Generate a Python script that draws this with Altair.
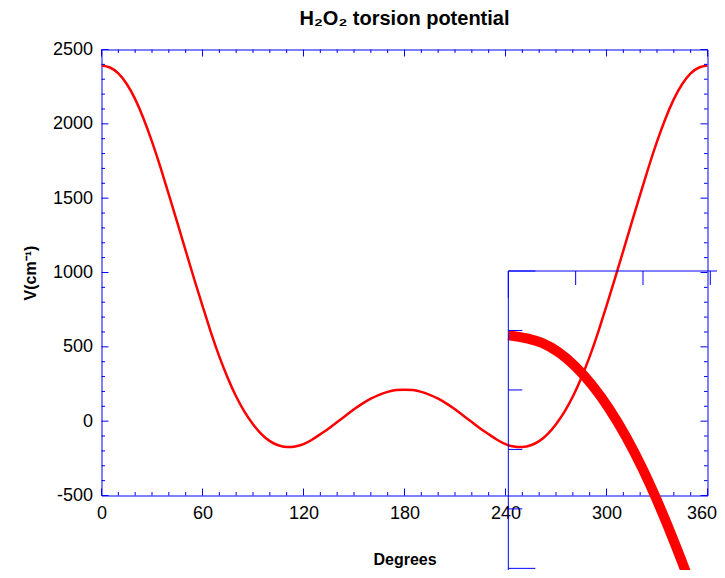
import altair as alt
import pandas as pd

# ---- data ----
angles = list(range(0, 365, 5))
potential = [2392, 2379, 2339, 2268, 2166, 2034, 1880, 1708, 1524, 1337, 1147, 958, 776,
             597, 434, 291, 166, 63, -20, -87, -134, -162, -174, -171, -155,
             -125, -88, -49, -6, 37, 80, 118, 151, 177, 197, 209, 212,
             209, 197, 177, 151, 118, 80, 37, -6, -49, -88, -125, -155,
             -171, -174, -162, -134, -87, -20, 63, 166, 291, 434, 597, 776,
             958, 1147, 1337, 1524, 1708, 1880, 2034, 2166, 2268, 2339, 2379, 2392]

inset_angles = angles[:10]
inset_potential = potential[:10]

x_major = [0, 60, 120, 180, 240, 300, 360]
x_minor = [a for a in range(0, 361, 10) if a % 60 != 0]
y_major = [-500, 0, 500, 1000, 1500, 2000, 2500]
y_minor = [v for v in range(-500, 2501, 100) if v % 500 != 0]

inset_x_major = [0]
inset_x_minor = [10, 20, 30]
inset_y_major = [2500, 2000]
inset_y_minor = [2400, 2300, 2200, 2100]

# ---- style ----
W, H = 606, 446
BLUE = "#0000ff"
RED = "#ff0000"
FONT = "Liberation Sans"

xs = alt.Scale(domain=[0, 360], nice=False, zero=False)
ys = alt.Scale(domain=[-500, 2500], nice=False, zero=False)
xi = alt.Scale(domain=[-60.42, 29.58], nice=False, zero=False)
yi = alt.Scale(domain=[2122.5, 2872.5], nice=False, zero=False)

df = pd.DataFrame({"deg": angles, "V": potential})
df_in = pd.DataFrame({"deg": inset_angles, "V": inset_potential})

last_label = "datum.value == 360"

curve = alt.Chart(df).mark_line(color=RED, strokeWidth=2.5, interpolate="natural", clip=True).encode(
    x=alt.X("deg:Q", scale=xs, axis=alt.Axis(
        values=x_major, title="Degrees", ticks=False, domain=False, grid=False,
        labelFont=FONT, labelFontSize=18, labelColor="black", labelPadding=9,
        labelFlush=False, labelOverlap=False,
        labelAlign={"condition": {"test": last_label, "value": "right"}, "value": "center"},
        labelOffset={"condition": {"test": last_label, "value": 9}, "value": 0},
        titleFont=FONT, titleFontWeight="bold", titleFontSize=16, titleColor="black",
        titlePadding=29)),
    y=alt.Y("V:Q", scale=ys, axis=alt.Axis(
        values=y_major, title="V(cm⁻¹)", ticks=False, domain=False, grid=False,
        labelFont=FONT, labelFontSize=18, labelColor="black", labelPadding=9,
        labelFlush=False, labelOverlap=False, labelExpr="'' + datum.value",
        titleFont=FONT, titleFontWeight="bold", titleFontSize=16, titleColor="black",
        titlePadding=14)),
)


def hticks(values, at, length, xsc, ysc):
    d = pd.DataFrame({"v": values, "p": [at] * len(values)})
    return alt.Chart(d).mark_rule(color=BLUE, strokeWidth=1, x2Offset=length).encode(
        x=alt.X("p:Q", scale=xsc, axis=None), x2="p:Q",
        y=alt.Y("v:Q", scale=ysc, axis=None))


def vticks(values, at, length, xsc, ysc):
    d = pd.DataFrame({"v": values, "p": [at] * len(values)})
    return alt.Chart(d).mark_rule(color=BLUE, strokeWidth=1, y2Offset=length).encode(
        x=alt.X("v:Q", scale=xsc, axis=None),
        y=alt.Y("p:Q", scale=ysc, axis=None), y2="p:Q")


main_ticks = [
    hticks(y_major, 0, 7, xs, ys), hticks(y_minor, 0, 3.5, xs, ys),
    hticks(y_major, 360, -7, xs, ys), hticks(y_minor, 360, -3.5, xs, ys),
    vticks(x_major, 2500, 7, xs, ys), vticks(x_minor, 2500, 3.5, xs, ys),
    vticks(x_major, -500, -7, xs, ys), vticks(x_minor, -500, -3.5, xs, ys),
]

inset_curve = alt.Chart(df_in).mark_line(color=RED, strokeWidth=10, interpolate="natural",
                                         strokeCap="butt").encode(
    x=alt.X("deg:Q", scale=xi, axis=None),
    y=alt.Y("V:Q", scale=yi, axis=None),
)

frame_top = alt.Chart(pd.DataFrame({"a": [0], "b": [45], "v": [2500]})).mark_rule(
    color=BLUE, strokeWidth=1).encode(
    x=alt.X("a:Q", scale=xi, axis=None), x2="b:Q", y=alt.Y("v:Q", scale=yi, axis=None))
frame_left = alt.Chart(pd.DataFrame({"a": [0], "v": [2500], "w": [1850]})).mark_rule(
    color=BLUE, strokeWidth=1).encode(
    x=alt.X("a:Q", scale=xi, axis=None), y=alt.Y("v:Q", scale=yi, axis=None), y2="w:Q")

inset_ticks = [
    hticks(inset_y_major, 0, 27, xi, yi), hticks(inset_y_minor, 0, 14, xi, yi),
    vticks(inset_x_major, 2500, 27, xi, yi), vticks(inset_x_minor, 2500, 14, xi, yi),
]

chart = alt.layer(curve, *main_ticks, inset_curve, frame_top, frame_left, *inset_ticks).resolve_scale(
    x="independent", y="independent").properties(
    width=W, height=H,
    autosize=alt.AutoSizeParams(type="none"),
    padding={"left": 93.5, "top": 41.5, "right": 9.5, "bottom": 74.5},
    title=alt.Title("H₂O₂ torsion potential", font=FONT, fontSize=20, fontWeight="bold",
                    color="black", anchor="middle", frame="group", offset=12),
).configure_view(stroke=BLUE, strokeWidth=1)

chart.save("out.html", embed_options={"renderer": "svg", "actions": False})
